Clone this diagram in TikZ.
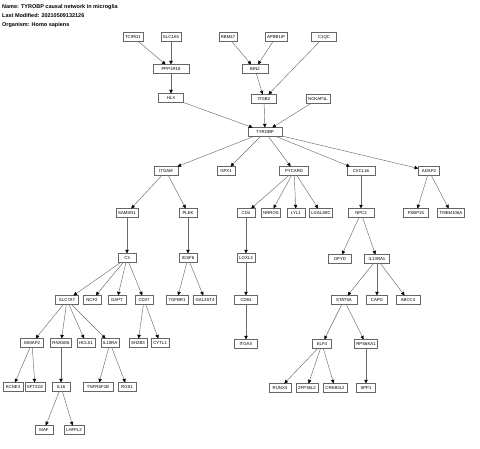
\documentclass[tikz,border=0pt]{standalone}
\usepackage{fontspec}
\setmainfont{Liberation Sans}
\usetikzlibrary{arrows.meta}

\tikzset{
  gene/.style={draw=gray!80!black, fill=white, line width=0.55pt, inner xsep=2pt, inner ysep=0pt,
    minimum height=8.5pt, minimum width=18pt, font=\fontsize{4.3}{5}\selectfont},
  link/.style={draw=gray!85!black, line width=0.45pt, -{Triangle[length=3.6pt, width=3.4pt, color=black]}},
  heading/.style={anchor=west, inner sep=0pt, font=\fontsize{5.5}{6}\selectfont\bfseries}
}

\begin{document}
\begin{tikzpicture}[x=1pt, y=-1pt]
\useasboundingbox (0,0) rectangle (480,449);
\node[heading] (name) at (2,7) {Name: TYROBP causal network in microglia};
\node[heading] (modified) at (2,16) {Last Modified: 20210509132126};
\node[heading] (organism) at (2,25) {Organism: Homo sapiens};

% top rows
\node[gene] (tcirg1) at (133,37) {TCIRG1};
\node[gene] (slc1a5) at (171,37) {SLC1A5};
\node[gene] (rbm47) at (228,37) {RBM47};
\node[gene] (apbb1ip) at (276,37) {APBB1IP};
\node[gene, minimum width=25pt] (c1qc) at (324,37) {C1QC};
\node[gene, minimum width=36pt] (ppp1r18) at (171,69) {PPP1R18};
\node[gene, minimum width=26pt] (bin2) at (255,69) {BIN2};
\node[gene, minimum width=25pt] (hlx) at (171,98) {HLX};
\node[gene, minimum width=25pt] (itgb2) at (264,99) {ITGB2};
\node[gene] (nckap1l) at (318,99) {NCKAP1L};
\node[gene, minimum width=34pt] (tyrobp) at (265,132) {TYROBP};

% second level
\node[gene, minimum width=24pt] (itgam) at (166,171) {ITGAM};
\node[gene] (gpx1) at (226,171) {GPX1};
\node[gene, minimum width=29pt] (pycard) at (294,171) {PYCARD};
\node[gene, minimum width=28pt] (cxcl16) at (361,171) {CXCL16};
\node[gene, minimum width=21pt] (adap2) at (429,171) {ADAP2};
\node[gene] (samsn1) at (127,213) {SAMSN1};
\node[gene] (plek) at (188,213) {PLEK};
\node[gene] (cd4) at (246,213) {CD4};
\node[gene] (nrros) at (271,213) {NRROS};
\node[gene] (lyl1) at (296,213) {LYL1};
\node[gene] (lgals9c) at (321,213) {LGALS9C};
\node[gene, minimum width=26pt] (npc2) at (361,213) {NPC2};
\node[gene, minimum width=25pt] (fkbp15) at (416,213) {FKBP15};
\node[gene] (tmem106a) at (451,213) {TMEM106A};
\node[gene] (c3) at (127,258) {C3};
\node[gene] (igsf6) at (188,258) {IGSF6};
\node[gene] (loxl3) at (246,258) {LOXL3};
\node[gene, minimum width=23pt] (dpyd) at (340,259) {DPYD};
\node[gene, minimum width=25pt] (il13ra1) at (377,259) {IL13RA1};

% lower rows
\node[gene, minimum width=23pt] (slc7a7) at (67,300) {SLC7A7};
\node[gene] (ncf2) at (92,300) {NCF2};
\node[gene] (gapt) at (117,300) {GAPT};
\node[gene] (cd37) at (144,300) {CD37};
\node[gene, minimum width=22pt] (tgfbr1) at (177,300) {TGFBR1};
\node[gene] (gal3st4) at (205,300) {GAL3ST4};
\node[gene, minimum width=23pt] (cd84) at (246,300) {CD84};
\node[gene, minimum width=26pt] (stat5a) at (344,300) {STAT5A};
\node[gene, minimum width=21pt] (capg) at (377,300) {CAPG};
\node[gene, minimum width=24pt] (abcc4) at (408,300) {ABCC4};
\node[gene, minimum width=23pt] (gimap2) at (32,343) {GIMAP2};
\node[gene] (rnase6) at (61,343) {RNASE6};
\node[gene] (hcls1) at (86,343) {HCLS1};
\node[gene] (il10ra) at (110,343) {IL10RA};
\node[gene] (sh2b3) at (138,343) {SH2B3};
\node[gene] (cytl1) at (160,343) {CYTL1};
\node[gene, minimum width=23pt] (itgax) at (246,344) {ITGAX};
\node[gene, minimum width=19pt] (elf4) at (322,344) {ELF4};
\node[gene] (rps6ka1) at (366,344) {RPS6KA1};
\node[gene, minimum width=20pt] (kcne3) at (13,387) {KCNE3};
\node[gene, minimum width=20pt] (sft2d2) at (35,387) {SFT2D2};
\node[gene] (il16) at (61,387) {IL16};
\node[gene, minimum width=30pt] (tnfrsf1b) at (98,387) {TNFRSF1B};
\node[gene] (rgs1) at (127,387) {RGS1};
\node[gene, minimum width=22pt] (runx3) at (280,388) {RUNX3};
\node[gene, minimum width=22pt] (zfp36l2) at (307,388) {ZFP36L2};
\node[gene, minimum width=24pt] (creb3l2) at (335,388) {CREB3L2};
\node[gene, minimum width=19pt] (spp1) at (366,388) {SPP1};
\node[gene] (maf) at (44,430) {MAF};
\node[gene, minimum width=19pt] (lhfpl2) at (74,430) {LHFPL2};

% links
\path (tcirg1) edge[link] (ppp1r18) (slc1a5) edge[link] (ppp1r18)
      (ppp1r18) edge[link] (hlx) (hlx) edge[link] (tyrobp);
\path (rbm47) edge[link] (bin2) (apbb1ip) edge[link] (bin2)
      (bin2) edge[link] (itgb2) (c1qc) edge[link] (itgb2)
      (itgb2) edge[link] (tyrobp) (nckap1l) edge[link] (tyrobp);
\path (tyrobp) edge[link] (itgam) edge[link] (gpx1) edge[link] (pycard)
      edge[link] (cxcl16) edge[link] (adap2);
\path (itgam) edge[link] (samsn1) edge[link] (plek);
\path (pycard) edge[link] (cd4) edge[link] (nrros) edge[link] (lyl1) edge[link] (lgals9c);
\path (cxcl16) edge[link] (npc2);
\path (adap2) edge[link] (fkbp15) edge[link] (tmem106a);
\path (samsn1) edge[link] (c3) (plek) edge[link] (igsf6) (cd4) edge[link] (loxl3);
\path (npc2) edge[link] (dpyd) edge[link] (il13ra1);
\path (c3) edge[link] (slc7a7) edge[link] (ncf2) edge[link] (gapt) edge[link] (cd37);
\path (igsf6) edge[link] (tgfbr1) edge[link] (gal3st4);
\path (loxl3) edge[link] (cd84);
\path (cd84) edge[link] (itgax);
\path (il13ra1) edge[link] (stat5a) edge[link] (capg) edge[link] (abcc4);
\path (slc7a7) edge[link] (gimap2) edge[link] (rnase6) edge[link] (hcls1) edge[link] (il10ra);
\path (cd37) edge[link] (sh2b3) edge[link] (cytl1);
\path (stat5a) edge[link] (elf4) edge[link] (rps6ka1);
\path (gimap2) edge[link] (kcne3) edge[link] (sft2d2);
\path (rnase6) edge[link] (il16);
\path (il10ra) edge[link] (tnfrsf1b) edge[link] (rgs1);
\path (elf4) edge[link] (runx3) edge[link] (zfp36l2) edge[link] (creb3l2);
\path (rps6ka1) edge[link] (spp1);
\path (il16) edge[link] (maf) edge[link] (lhfpl2);
\end{tikzpicture}
\end{document}
